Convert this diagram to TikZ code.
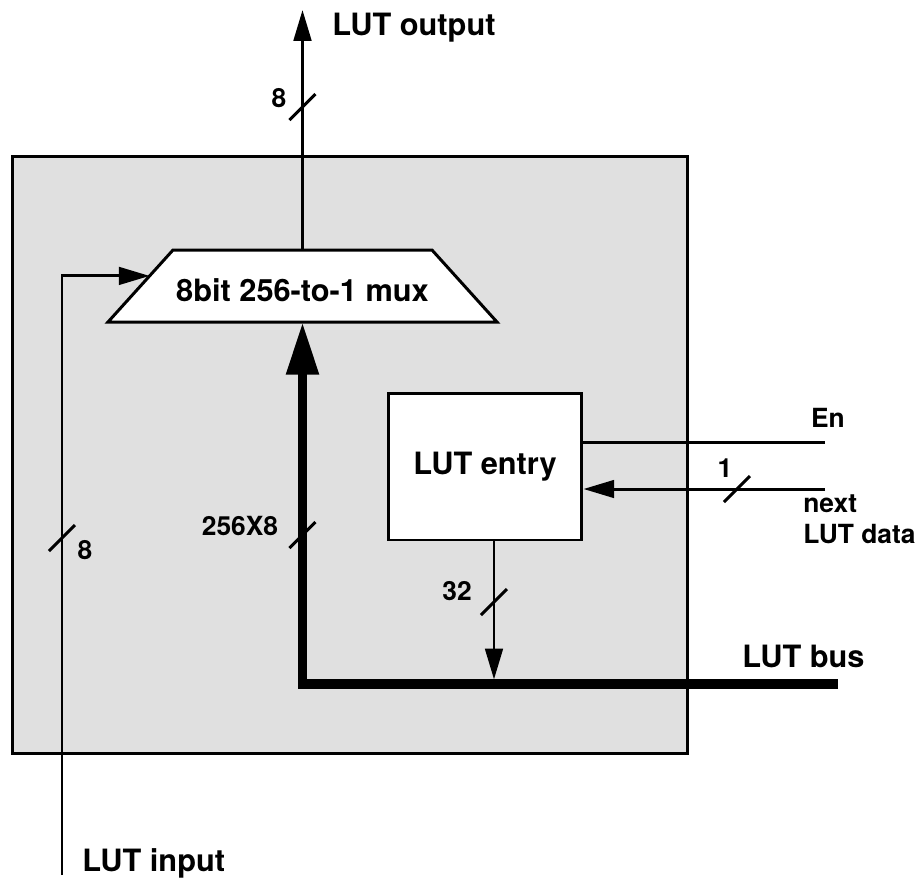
\documentclass[tikz,border=0pt]{standalone}
\usepackage{fontspec}
\setmainfont{TeX Gyre Heros}
\usepackage{tikz}
\usetikzlibrary{calc,arrows.meta,positioning}
\tikzset{
  wire/.style      = {line width=1.7pt},
  sig/.style       = {wire, -{Triangle[length=17.5pt,width=10pt]}},
  bus/.style       = {line width=5.4pt, -{Triangle[length=30pt,width=17.5pt]}},
  bigtext/.style   = {font=\fontsize{17.5}{21}\selectfont\bfseries, inner sep=0pt},
  smalltext/.style = {font=\fontsize{15}{18}\selectfont\bfseries, inner sep=0pt},
  chip/.style      = {draw, line width=1.7pt, fill=black!12, inner sep=0pt},
  entrybox/.style  = {draw, line width=1.7pt, fill=white, bigtext,
                      minimum width=3.88cm, minimum height=2.94cm},
  muxline/.style   = {draw, line width=1.7pt, fill=white, line join=miter},
  slash/.pic       = {\draw[wire] (-13,13) -- (13,-13);},
}

\begin{document}
\begin{tikzpicture}[x=0.02cm, y=-0.02cm]
  \useasboundingbox (0,0) rectangle (920,880);
  \node[chip, minimum width=13.52cm, minimum height=11.96cm] (lut) at (350,455) {};
  % the mux body
  \path[muxline] (173,250) coordinate (mtl) -- (432,250) coordinate (mtr)
    -- (497,322) coordinate (mbr) -- (108,322) coordinate (mbl) -- cycle;
  \node[bigtext] (mux) at (302.5,290) {8bit 256-to-1 mux};
  \node[entrybox] (entry) at (485,466.5) {LUT entry};
  % free ends
  \coordinate (out) at (302.5,10);
  \coordinate (inbot) at (62,875);
  \coordinate (enout) at (825,442);
  \coordinate (datain) at (825,489);
  \coordinate (busend) at (838,684);
  \coordinate (muxin) at ($(mtl)!0.36!(mbl)$);
  \coordinate (tap) at ([xshift=0.18cm]entry.south);
  % connectors
  \draw[sig] (mux |- mtl) -- (out);
  \draw[sig] (inbot) |- (muxin);
  \draw[bus] (busend) -| (mux |- mbl);
  \draw[sig, shorten >=2.6pt] (tap) -- (tap |- busend);
  \draw[wire] (entry.east |- enout) -- (enout);
  \draw[sig] (datain) -- (datain -| entry.east);
  % bus widths
  \pic at (302.5,107) {slash};
  \pic at (62,538) {slash};
  \pic at (302.5,535) {slash};
  \pic at (tap |- 0,602) {slash};
  \pic at (737,489) {slash};
  \node[smalltext] (w8out) at (279,98) {8};
  \node[smalltext] (w8in) at (85,550) {8};
  \node[smalltext] (wbus) at (240,526) {256X8};
  \node[smalltext] (w32) at (457,591) {32};
  \node[smalltext] (w1) at (725,468) {1};
  % labels
  \node[bigtext, anchor=base west] (outlab) at (332,35) {LUT output};
  \node[bigtext, anchor=base west] (inlab) at (82,871) {LUT input};
  \node[bigtext, anchor=base west] (buslab) at (742,667) {LUT bus};
  \node[smalltext, anchor=base] (enlab) at (828,427) {En};
  \node[smalltext, anchor=north west, align=left] (datalab) at (803,494) {next\\LUT data};
\end{tikzpicture}
\end{document}
